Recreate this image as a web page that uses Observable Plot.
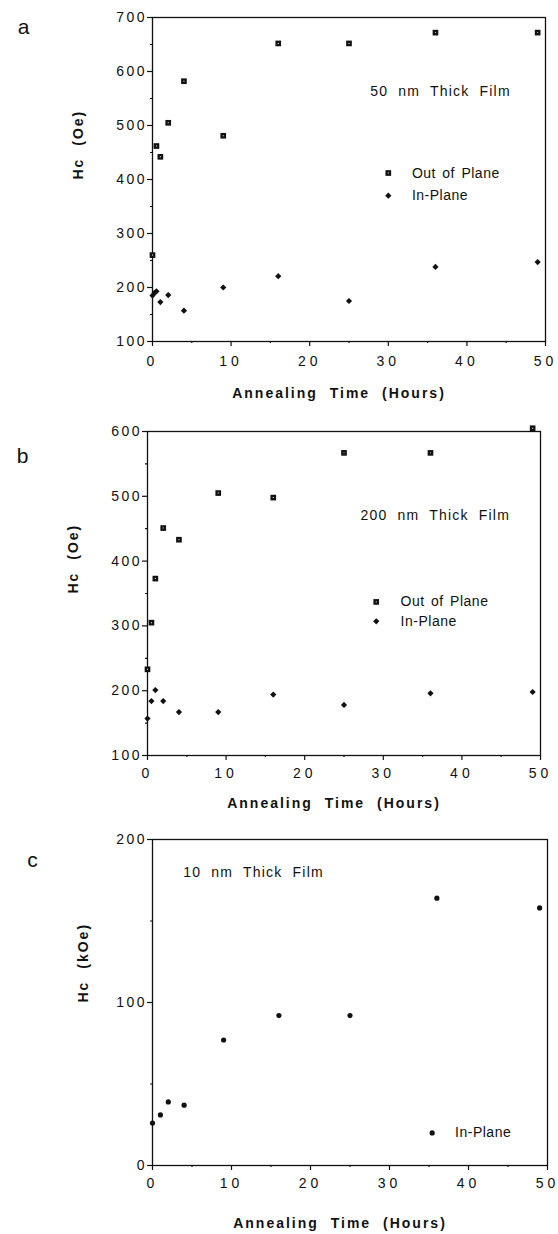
<!DOCTYPE html>
<html>
<head>
<meta charset="utf-8">
<script src="https://cdn.jsdelivr.net/npm/d3@7"></script>
<script src="https://cdn.jsdelivr.net/npm/@observablehq/plot@0.6"></script>
<style>
  html, body { margin: 0; padding: 0; background: #fff; }
  #wrap { width: 558px; height: 1234px; position: relative; }
  #wrap svg { display: block; font-family: "Liberation Sans", Arial, Helvetica, sans-serif; color: #111; }
  g[aria-label="x-axis tick label"] text { font-size: 14px; letter-spacing: 4px; }
  g[aria-label="y-axis tick label"] text { font-size: 14px; letter-spacing: 2.5px; }
</style>
</head>
<body>
<div id="wrap"></div>
<script>
// ---------- shared axis values ----------
const xTicks = [0, 10, 20, 30, 40, 50];
const xMinor = [5, 15, 25, 35, 45];
const xTitle = "Annealing Time (Hours)";

// ---------- panel a : 50 nm film ----------
const aOutTime = [0, 0.5, 1, 2, 4, 9, 16, 25, 36, 49];
const aOutHc   = [260, 462, 442, 505, 582, 481, 652, 652, 672, 672];
const aInTime  = [0, 0.25, 0.5, 1, 2, 4, 9, 16, 25, 36, 49];
const aInHc    = [185, 190, 193, 173, 186, 157, 200, 221, 175, 238, 247];
const aYTicks  = [100, 200, 300, 400, 500, 600, 700];
const aYMinor  = [150, 250, 350, 450, 550, 650];

// ---------- panel b : 200 nm film ----------
const bOutTime = [0, 0.5, 1, 2, 4, 9, 16, 25, 36, 49];
const bOutHc   = [233, 305, 373, 451, 433, 505, 498, 567, 567, 605];
const bInTime  = [0, 0.5, 1, 2, 4, 9, 16, 25, 36, 49];
const bInHc    = [157, 184, 201, 184, 167, 167, 194, 178, 196, 198];
const bYTicks  = [100, 200, 300, 400, 500, 600];
const bYMinor  = [150, 250, 350, 450, 550];

// ---------- panel c : 10 nm film ----------
const cInTime  = [0, 1, 2, 4, 9, 16, 25, 36, 49];
const cInHc    = [26, 31, 39, 37, 77, 92, 92, 164, 158];
const cYTicks  = [0, 100, 200];
const cYMinor  = [50, 150];

const ink = "#111";

function rows(ts, vs) { return ts.map((t, i) => ({t, hc: vs[i]})); }

function panel(o) {
  const marks = [
    Plot.frame({stroke: ink, strokeWidth: 1.3}),
    Plot.axisX({ticks: xTicks, tickSize: 5, tickPadding: o.xPad, tickFormat: d => String(d), label: null, strokeWidth: 1.2}),
    Plot.axisX({ticks: xMinor, tickSize: 2, tickFormat: () => "", label: null, strokeWidth: 1.2}),
    Plot.axisY({ticks: o.yTicks, tickSize: 5, tickPadding: 0.5, tickFormat: d => String(d), label: null, strokeWidth: 1.2}),
    Plot.axisY({ticks: o.yMinor, tickSize: 2, tickFormat: () => "", label: null, strokeWidth: 1.2}),
    Plot.text([xTitle], {text: d => d, frameAnchor: "bottom", dx: -10, dy: o.xTitleDy, lineAnchor: "middle",
      fontWeight: "bold", fontSize: 14, fill: ink}),
    Plot.text([o.yTitle], {text: d => d, frameAnchor: "left", dx: o.yTitleDx, rotate: -90, lineAnchor: "middle",
      fontWeight: "bold", fontSize: 14, fill: ink}),
    Plot.text([o.letter], {text: d => d, frameAnchor: "top-left", dx: o.letterDx, dy: o.letterDy, lineAnchor: "middle",
      textAnchor: "middle", fontSize: 21, fill: ink}),
    Plot.text([o.note], {text: d => d, x: o.noteX, y: o.noteY, textAnchor: "start", lineAnchor: "middle",
      fontSize: 14, fill: ink})
  ];
  if (o.out) {
    marks.push(
      Plot.dot(o.out, {x: "t", y: "hc", symbol: "square", r: 3.2, fill: ink}),
      Plot.dot(o.out, {x: "t", y: "hc", symbol: "square", r: 0.55, fill: "#fff"}),
      Plot.dot([0], {x: o.legX, y: o.legOutY, symbol: "square", r: 3.2, fill: ink}),
      Plot.dot([0], {x: o.legX, y: o.legOutY, symbol: "square", r: 0.55, fill: "#fff"}),
      Plot.text(["Out of Plane"], {text: d => d, x: o.legTextX, y: o.legOutY, textAnchor: "start", lineAnchor: "middle",
        fontSize: 14, fill: ink})
    );
  }
  marks.push(
    Plot.dot(o.inn, {x: "t", y: "hc", symbol: o.inSymbol, r: o.inR, fill: ink}),
    Plot.dot([0], {x: o.legX, y: o.legInY, symbol: o.inSymbol, r: o.inR, fill: ink}),
    Plot.text(["In-Plane"], {text: d => d, x: o.legTextX, y: o.legInY, textAnchor: "start", lineAnchor: "middle",
      fontSize: 14, fill: ink})
  );
  const svg = Plot.plot({
    width: 558,
    height: o.height,
    marginTop: o.mt, marginBottom: o.mb, marginLeft: o.ml, marginRight: o.mr,
    x: {domain: [0, 50]},
    y: {domain: o.yDomain},
    style: {background: "#fff", color: ink},
    marks
  });
  // letter / word spacing for the typed labels
  d3.select(svg).selectAll("text").each(function () {
    const t = this.textContent;
    const s = this.style;
    if (t === xTitle || t === o.yTitle) { s.letterSpacing = "2px"; s.wordSpacing = "6px"; }
    else if (t === o.note) { s.letterSpacing = "1.2px"; s.wordSpacing = "5px"; }
    else if (t === "Out of Plane" || t === "In-Plane") { s.letterSpacing = "0.5px"; s.wordSpacing = "2px"; }
  });
  return svg;
}

const wrap = document.getElementById("wrap");

wrap.appendChild(panel({
  height: 410, mt: 17, mb: 69, ml: 152, mr: 13, xPad: 10,
  yDomain: [100, 700], yTicks: aYTicks, yMinor: aYMinor,
  out: rows(aOutTime, aOutHc), inn: rows(aInTime, aInHc), inSymbol: "diamond2", inR: 2.8,
  yTitle: "Hc (Oe)", yTitleDx: -74, xTitleDy: 52,
  letter: "a", letterDx: -129, letterDy: 10,
  note: "50 nm Thick Film", noteX: 27.7, noteY: 563,
  legX: 30.0, legTextX: 33.0, legOutY: 412, legInY: 370
}));

wrap.appendChild(panel({
  height: 410, mt: 21, mb: 65, ml: 147, mr: 18, xPad: 8,
  yDomain: [100, 600], yTicks: bYTicks, yMinor: bYMinor,
  out: rows(bOutTime, bOutHc), inn: rows(bInTime, bInHc), inSymbol: "diamond2", inR: 2.8,
  yTitle: "Hc (Oe)", yTitleDx: -74, xTitleDy: 48,
  letter: "b", letterDx: -125, letterDy: 25,
  note: "200 nm Thick Film", noteX: 27.1, noteY: 471,
  legX: 29.1, legTextX: 32.2, legOutY: 337, legInY: 307
}));

wrap.appendChild(panel({
  height: 414, mt: 19, mb: 69, ml: 152, mr: 11, xPad: 8,
  yDomain: [0, 200], yTicks: cYTicks, yMinor: cYMinor,
  out: null, inn: rows(cInTime, cInHc), inSymbol: "circle", inR: 2.6,
  yTitle: "Hc (kOe)", yTitleDx: -69, xTitleDy: 58,
  letter: "c", letterDx: -120, letterDy: 21,
  note: "10 nm Thick Film", noteX: 3.9, noteY: 180,
  legX: 35.4, legTextX: 38.3, legOutY: 0, legInY: 20
}));
</script>
</body>
</html>
